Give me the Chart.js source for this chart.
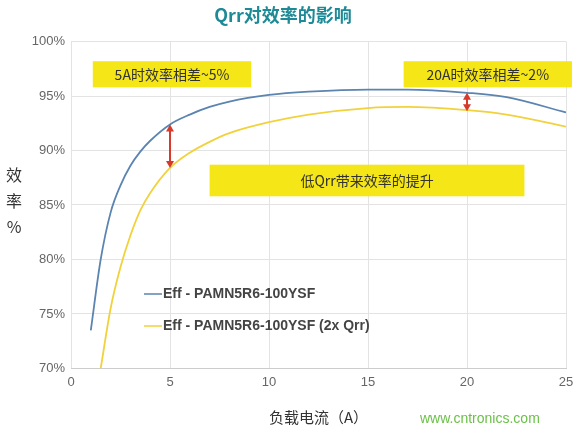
<!DOCTYPE html>
<html><head><meta charset="utf-8">
<script src="https://cdn.jsdelivr.net/npm/chart.js@4"></script>
<style>body{margin:0;background:#fff}#w{position:relative;width:580px;height:439px}</style>
</head><body><div id="w"><canvas id="c" width="580" height="439"></canvas>
<script>
const xBlue=[1,1.5,2,2.5,3,3.5,4,5,6,7,8,10,12,15,17,20,22,25];
const effBlue=[73.5,80,84.3,86.8,88.6,89.9,90.9,92.4,93.3,94,94.5,95.1,95.4,95.6,95.6,95.3,94.9,93.5];
const xYellow=[1.5,2,2.5,3,3.5,4,5,6,7,8,10,12,15,17,20,22,25];
const effYellow=[70,75.5,79.3,82.2,84.5,86.1,88.4,89.8,90.8,91.6,92.6,93.3,93.9,94.0,93.7,93.3,92.2];
const yTicks=[70,75,80,85,90,95,100];
const seriesNames=['Eff - PAMN5R6-100YSF','Eff - PAMN5R6-100YSF (2x Qrr)'];
const notes=[{t:'5A时效率相差~5%',x0:1.1,x1:9.1,y0:98.2,y1:95.8},{t:'20A时效率相差~2%',x0:16.8,x1:25.3,y0:98.2,y1:95.8},{t:'低Qrr带来效率的提升',x0:7.0,x1:22.9,y0:88.7,y1:85.8}];
const arrows=[{x:5,a:92.4,b:88.4},{x:20,a:95.3,b:93.6}];
const F='"Noto Sans CJK SC","Noto Sans",sans-serif';
const deco={id:'deco',afterDatasetsDraw(ch){
 const c=ch.ctx,xs=ch.scales.x,ys=ch.scales.y;
 c.save();
 notes.forEach(n=>{const l=xs.getPixelForValue(n.x0),r=xs.getPixelForValue(n.x1),t=ys.getPixelForValue(n.y0),b=ys.getPixelForValue(n.y1);
  c.fillStyle='#f5e617';c.fillRect(l,t,r-l,b-t);c.fillStyle='#333';c.font='14px '+F;c.textAlign='center';c.textBaseline='middle';c.fillText(n.t,(l+r)/2,(t+b)/2);});
 c.strokeStyle='#d63a2c';c.fillStyle='#d63a2c';c.lineWidth=2;
 arrows.forEach(a=>{const x=xs.getPixelForValue(a.x),t=ys.getPixelForValue(a.a),b=ys.getPixelForValue(a.b);
  c.beginPath();c.moveTo(x,t+5);c.lineTo(x,b-5);c.stroke();
  c.beginPath();c.moveTo(x,t);c.lineTo(x-4,t+7);c.lineTo(x+4,t+7);c.fill();
  c.beginPath();c.moveTo(x,b);c.lineTo(x-4,b-7);c.lineTo(x+4,b-7);c.fill();});
 const cols=['#5b84b1','#f2d23c'];
 seriesNames.forEach((s,i)=>{const y=294+i*32;c.strokeStyle=cols[i];c.lineWidth=1.5;c.beginPath();c.moveTo(144,y);c.lineTo(162,y);c.stroke();
  c.fillStyle='#444';c.font='bold 14px "Liberation Sans",Arial,sans-serif';c.textAlign='left';c.textBaseline='middle';c.fillText(s,163,y);});
 c.fillStyle='#333';c.font='16px '+F;c.textAlign='center';
 ['效','率','%'].forEach((s,i)=>c.fillText(s,14,175+i*26));
 c.restore();}};
new Chart(document.getElementById('c'),{type:'scatter',
 data:{datasets:[
  {data:xBlue.map((x,i)=>({x,y:effBlue[i]})),showLine:true,borderColor:'#5b84b1',borderWidth:1.8,pointRadius:0,cubicInterpolationMode:'monotone'},
  {data:xYellow.map((x,i)=>({x,y:effYellow[i]})),showLine:true,borderColor:'#f2d23c',borderWidth:1.8,pointRadius:0,cubicInterpolationMode:'monotone'}]},
 options:{responsive:false,animation:false,layout:{padding:{top:0,right:14,left:0,bottom:9}},
  plugins:{legend:{display:false},tooltip:{enabled:false},
   title:{display:true,text:'Qrr对效率的影响',color:'#1e8a96',font:{size:18,weight:'bold',family:F},padding:{top:4,bottom:16}}},
  scales:{
   x:{min:0,max:25,ticks:{stepSize:5,color:'#666',font:{size:13},padding:6},grid:{color:'#e3e3e3',drawTicks:false},border:{color:'#ccc'},
      title:{display:true,text:'负载电流（A）',color:'#333',font:{size:15,family:F},padding:{top:12}}},
   y:{min:70,max:100,afterBuildTicks(a){a.ticks=yTicks.map(v=>({value:v}));},afterFit(a){a.width=71;},
      ticks:{color:'#666',font:{size:13},padding:6,callback:v=>v+'%'},grid:{color:'#e3e3e3',drawTicks:false},border:{display:false}}}},
 plugins:[deco]});
</script>
<div style="position:absolute;left:420px;top:410px;font:14px 'Liberation Sans',sans-serif;color:#6cc04a">www.cntronics.com</div>
</div></body></html>
